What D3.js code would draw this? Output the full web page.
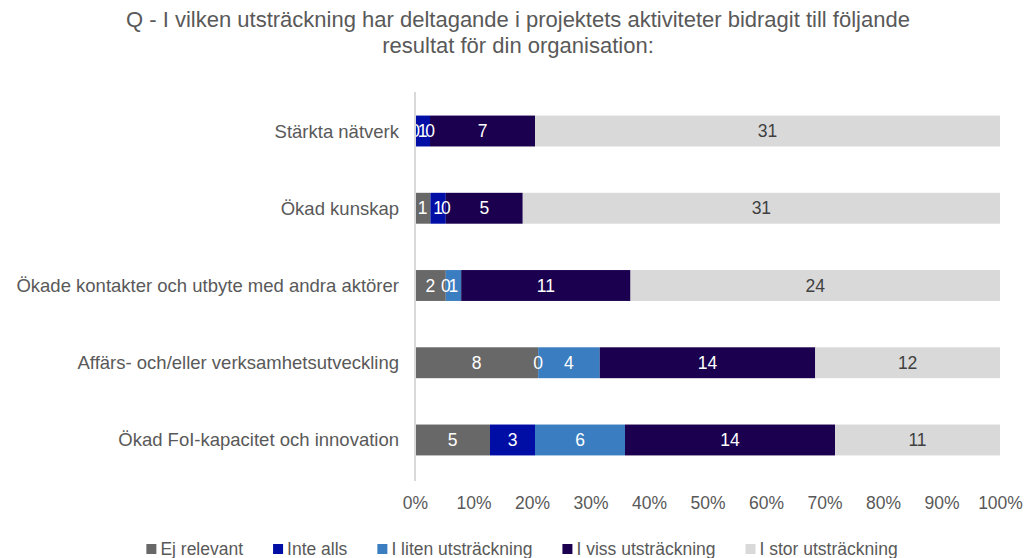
<!DOCTYPE html>
<html>
<head>
<meta charset="utf-8">
<script src="https://d3js.org/d3.v7.min.js"></script>
<style>
body { margin: 0; background: white; font-family: "Liberation Sans", Arial, sans-serif; }
</style>
</head>
<body>
<script>
var categories = ["Stärkta nätverk", "Ökad kunskap", "Ökade kontakter och utbyte med andra aktörer",
  "Affärs- och/eller verksamhetsutveckling", "Ökad FoI-kapacitet och innovation"];
var seriesNames = ["Ej relevant", "Inte alls", "I liten utsträckning", "I viss utsträckning", "I stor utsträckning"];
var ejRelevant = [0, 1, 2, 8, 5];
var inteAlls = [1, 1, 0, 0, 3];
var litenUtstr = [0, 0, 1, 4, 6];
var vissUtstr = [7, 5, 11, 14, 14];
var storUtstr = [31, 31, 24, 12, 11];
var colors = ["#686868", "#000ea6", "#3a7dc0", "#1a004e", "#d9d9d9"];
var labelColors = ["#fff", "#fff", "#fff", "#fff", "#404040"];
var ticks = [0, 0.1, 0.2, 0.3, 0.4, 0.5, 0.6, 0.7, 0.8, 0.9, 1];

var width = 1026, height = 558;
var series = [ejRelevant, inteAlls, litenUtstr, vissUtstr, storUtstr];

var rows = categories.map(function(c, i) {
  var row = { cat: c };
  seriesNames.forEach(function(s, j) { row[s] = series[j][i]; });
  return row;
});

var stacked = d3.stack().keys(seriesNames).offset(d3.stackOffsetExpand)(rows);

var svg = d3.select("body").append("svg")
  .attr("width", width).attr("height", height);

var x = d3.scaleLinear().domain([0, 1]).range([415, 1000]);
var y = d3.scaleBand().domain(categories).range([92.4, 478.6])
  .paddingInner(0.6).paddingOuter(0.3);

// title
svg.append("text").attr("x", 518).attr("y", 27).attr("text-anchor", "middle")
  .attr("fill", "#595959").style("font-size", "22px")
  .text("Q - I vilken utsträckning har deltagande i projektets aktiviteter bidragit till följande");
svg.append("text").attr("x", 518).attr("y", 53).attr("text-anchor", "middle")
  .attr("fill", "#595959").style("font-size", "22px")
  .text("resultat för din organisation:");

// bars
var layers = svg.append("g").selectAll("g")
  .data(stacked).enter().append("g")
  .attr("fill", function(d, i) { return colors[i]; });

layers.selectAll("rect")
  .data(function(d) { return d; })
  .enter().append("rect")
  .attr("x", function(d) { return x(d[0]); })
  .attr("width", function(d) { return x(d[1]) - x(d[0]); })
  .attr("y", function(d) { return y(d.data.cat); })
  .attr("height", y.bandwidth());

// data labels
stacked.forEach(function(layer, i) {
  svg.append("g").selectAll("text")
    .data(layer).enter().append("text")
    .attr("x", function(d) { return (x(d[0]) + x(d[1])) / 2; })
    .attr("y", function(d) { return y(d.data.cat) + y.bandwidth() / 2 + 6; })
    .attr("text-anchor", "middle")
    .attr("fill", labelColors[i])
    .style("font-size", "17.5px")
    .text(function(d) { return d.data[layer.key]; });
});

// vertical axis line
svg.append("line").attr("x1", 415).attr("x2", 415).attr("y1", 92).attr("y2", 481)
  .attr("stroke", "#d9d9d9").attr("stroke-width", 2);

// category labels
svg.append("g").selectAll("text")
  .data(categories).enter().append("text")
  .attr("x", 399)
  .attr("y", function(d) { return y(d) + y.bandwidth() / 2 + 6.5; })
  .attr("text-anchor", "end")
  .attr("fill", "#595959")
  .style("font-size", "18.5px")
  .text(function(d) { return d; });

// x axis
var xAxis = svg.append("g").attr("transform", "translate(0,479)")
  .call(d3.axisBottom(x).tickValues(ticks).tickFormat(d3.format(".0%")).tickSize(0).tickPadding(17.6));
xAxis.select(".domain").remove();
xAxis.selectAll("text").attr("fill", "#595959").style("font-size", "17.5px")
  .style("font-family", "'Liberation Sans', Arial, sans-serif");

// legend
var legend = svg.append("g");
var lx = 0;
seriesNames.forEach(function(s, i) {
  var item = legend.append("g").attr("transform", "translate(" + lx + ",0)");
  item.append("rect").attr("x", 0).attr("y", -11).attr("width", 10).attr("height", 10).attr("fill", colors[i]);
  var t = item.append("text").attr("x", 14).attr("y", 0).attr("fill", "#595959")
    .style("font-size", "17.5px").text(s);
  lx += 14 + t.node().getComputedTextLength() + 30;
});
var total = lx - 30;
legend.attr("transform", "translate(" + (522 - total / 2) + ",555)");
</script>
</body>
</html>
